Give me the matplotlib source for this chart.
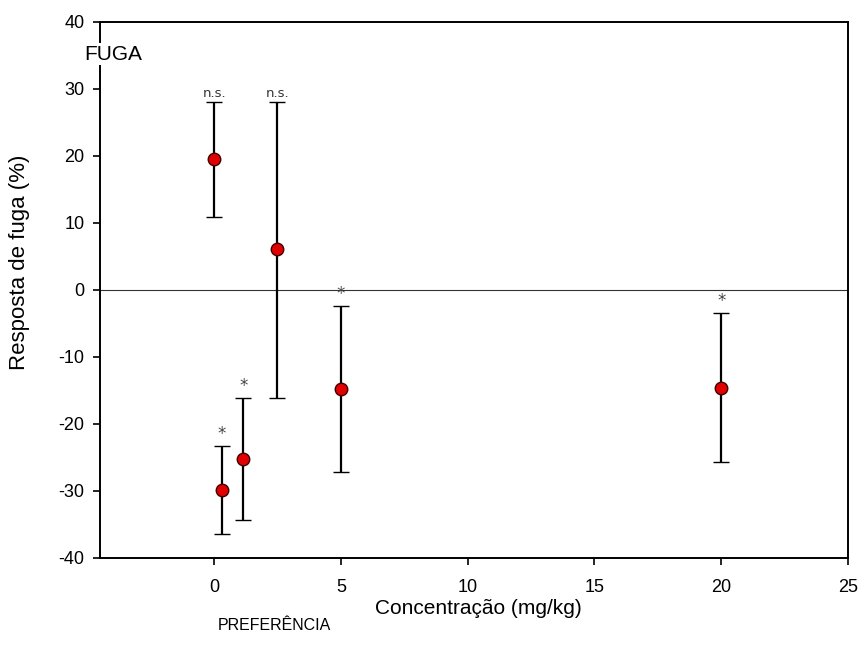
import matplotlib
matplotlib.use("Agg")
import matplotlib.pyplot as plt

plt.rcParams['font.family'] = ['Liberation Sans', 'DejaVu Sans']
plt.rcParams['axes.unicode_minus'] = False

# Data
conc = [0, 0.3, 1.15, 2.5, 5, 20]
resp = [19.5, -29.9, -25.2, 6.1, -14.8, -14.6]
upper = [28.0, -23.3, -16.1, 28.0, -2.4, -3.4]
lower = [10.9, -36.4, -34.3, -16.1, -27.2, -25.7]
signif = ["n.s.", "*", "*", "n.s.", "*", "*"]
xticks = [0, 5, 10, 15, 20, 25]
yticks = [-40, -30, -20, -10, 0, 10, 20, 30, 40]

fig = plt.figure(figsize=(8.61, 6.64), dpi=100)
ax = fig.add_axes([100/861, 1-557.7/664, 748/861, (557.7-22)/664])

ax.axhline(0, color='#333333', lw=0.8, zorder=1)

yerr = [[m - lo for m, lo in zip(resp, lower)], [up - m for m, up in zip(resp, upper)]]
ax.errorbar(conc, resp, yerr=yerr, fmt='o', color='black', ecolor='black',
            elinewidth=1.6, capsize=5.5, capthick=1.6,
            markerfacecolor='#e00000', markeredgecolor='#400000',
            markeredgewidth=1.0, markersize=9, zorder=3)

for xv, up, s in zip(conc, upper, signif):
    if s == "*":
        ax.annotate(s, (xv, up), xytext=(0, 2), textcoords='offset points',
                    ha='center', va='bottom', fontsize=12, color='#444444',
                    family='DejaVu Sans')
    else:
        ax.annotate(s, (xv, up), xytext=(0, 2), textcoords='offset points',
                    ha='center', va='bottom', fontsize=9.5, color='#333333',
                    family='DejaVu Sans')

ax.set_xlim(-4.5, 25)
ax.set_ylim(-40, 40)
ax.set_xticks(xticks)
ax.set_yticks(yticks)
ax.tick_params(axis='both', direction='out', length=5, width=1.2, labelsize=13)
ax.tick_params(axis='x', pad=10)
ax.tick_params(axis='y', pad=6)
ax.tick_params(top=False, right=False)
for sp in ax.spines.values():
    sp.set_linewidth(1.4)

ax.set_xlabel("Concentração (mg/kg)", fontsize=15)
ax.xaxis.set_label_coords(0.506, -0.077)
ax.set_ylabel("Resposta de fuga (%)", fontsize=16)
ax.yaxis.set_label_coords(-0.094, 0.552)

fig.text(84/861, 1-54/664, "FUGA", fontsize=15, ha='left', va='center',
         bbox=dict(facecolor='white', edgecolor='none', pad=1), zorder=5)
fig.text(218/861, 1-625/664, "PREFERÊNCIA", fontsize=11.5, ha='left', va='center')

fig.savefig("out.png", dpi=100)
